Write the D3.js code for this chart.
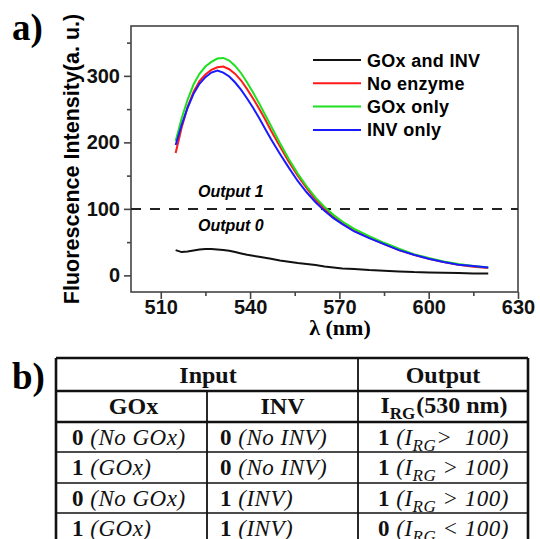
<!DOCTYPE html>
<html>
<head>
<meta charset="utf-8">
<script src="https://cdn.jsdelivr.net/npm/d3@7"></script>
<style>
  body { margin: 0; background: #fff; }
  svg { display: block; }
</style>
</head>
<body>
<svg id="chart" width="540" height="539"></svg>
<script>
// wavelength grid (nm) and spectra
const lambdas = [515, 517, 519, 521, 523, 525, 527, 529, 531, 533, 535, 537, 539, 541, 543, 545, 547,
                 550, 553, 556, 559, 562, 565, 568, 571, 575, 580, 585, 590, 595, 600, 605, 610, 615, 620];
const goxAndInv = [38, 35, 36, 37.5, 39, 39.5, 39.5, 39, 38, 37, 35, 33, 31, 29.5, 28, 26.5, 25,
                   22.5, 20.5, 18.5, 17, 15.5, 13.5, 12, 10.5, 9.5, 8, 7, 6, 5, 4.5, 4, 3.5, 3, 3];
const noEnzyme = [184, 222, 253, 276, 292, 302, 309, 313, 314, 310, 303, 293, 280, 266, 251, 235, 218,
                  194, 171, 150, 131, 114, 100, 88, 78, 67, 57, 47, 38, 31, 25, 20, 16, 13, 11];
const goxOnly = [202, 236, 264, 287, 303, 314, 321, 326, 327, 323, 315, 304, 290, 275, 259, 242, 225,
                 199, 175, 153, 134, 117, 103, 91, 81, 70, 59, 49, 40, 32, 26, 21, 17, 14, 12];
const invOnly = [196, 226, 252, 273, 288, 298, 305, 308, 305, 299, 290, 279, 266, 252, 237, 221, 205,
                 183, 162, 142, 125, 110, 97, 86, 77, 66, 56, 47, 38, 31, 25, 20, 16, 14, 12];

const seriesNames = ["GOx and INV", "No enzyme", "GOx only", "INV only"];
const seriesColors = ["#111111", "#ff1a1a", "#1fe01f", "#1a1aff"];
const seriesValues = [goxAndInv, noEnzyme, goxOnly, invOnly];

const xTicks = [510, 540, 570, 600, 630];
const xMinor = [525, 555, 585, 615];
const yTicks = [0, 100, 200, 300];
const yMinor = [50, 150, 250, 350];
const threshold = 100;

// truth table
const headTop = ["Input", "Output"];
const goxCells = [["0", "(No GOx)"], ["1", "(GOx)"], ["0", "(No GOx)"], ["1", "(GOx)"]];
const invCells = [["0", "(No INV)"], ["0", "(No INV)"], ["1", "(INV)"], ["1", "(INV)"]];
const outBits = ["1", "1", "1", "0"];
const outTail = ["> \u00a0100)", " > 100)", " > 100)", " < 100)"];

const svg = d3.select("#chart");
const sans = "'Liberation Sans', Arial, sans-serif";
const serif = "'Liberation Serif', 'Times New Roman', serif";

const x = d3.scaleLinear().domain([500, 630]).range([131, 518]);
const y = d3.scaleLinear().domain([-25, 375]).range([292, 26]);

// frame
svg.append("rect")
    .attr("x", 131).attr("y", 26)
    .attr("width", 518 - 131).attr("height", 292 - 26)
    .attr("fill", "none").attr("stroke", "#444").attr("stroke-width", 1.6);

// axes
const yAxis = svg.append("g").attr("transform", "translate(131,0)")
    .call(d3.axisLeft(y).tickValues(yTicks).tickSize(7).tickPadding(4));
const yAxisMinor = svg.append("g").attr("transform", "translate(131,0)")
    .call(d3.axisLeft(y).tickValues(yMinor).tickSize(4).tickFormat(""));
const xAxis = svg.append("g").attr("transform", "translate(0,292)")
    .call(d3.axisBottom(x).tickValues(xTicks).tickSize(7).tickPadding(1));
const xAxisMinor = svg.append("g").attr("transform", "translate(0,292)")
    .call(d3.axisBottom(x).tickValues(xMinor).tickSize(4).tickFormat(""));

[yAxis, yAxisMinor, xAxis, xAxisMinor].forEach(g => {
    g.select(".domain").remove();
    g.selectAll("line").attr("stroke", "#444").attr("stroke-width", 1.6);
    g.selectAll("text")
        .style("font-family", sans)
        .style("font-size", "20px")
        .style("font-weight", "bold")
        .attr("fill", "#111");
});

// threshold
svg.append("line")
    .attr("x1", x(500)).attr("x2", x(630))
    .attr("y1", y(threshold)).attr("y2", y(threshold))
    .attr("stroke", "#222").attr("stroke-width", 2)
    .attr("stroke-dasharray", "10,9");

svg.append("text").attr("x", 198).attr("y", 197)
    .style("font-family", sans).style("font-size", "16px")
    .style("font-weight", "bold").style("font-style", "italic")
    .text("Output 1");
svg.append("text").attr("x", 198).attr("y", 231)
    .style("font-family", sans).style("font-size", "16px")
    .style("font-weight", "bold").style("font-style", "italic")
    .text("Output 0");

// spectra
const line = d3.line().x((d, i) => x(lambdas[i])).y(d => y(d));
svg.selectAll(".spec")
    .data(seriesValues)
    .enter().append("path")
    .attr("class", "spec")
    .attr("d", line)
    .attr("fill", "none")
    .attr("stroke", (d, i) => seriesColors[i])
    .attr("stroke-width", 2);

// legend
const legend = svg.append("g");
seriesNames.forEach((name, i) => {
    const ly = 60 + i * 23.3;
    legend.append("line")
        .attr("x1", 313).attr("x2", 361).attr("y1", ly).attr("y2", ly)
        .attr("stroke", seriesColors[i]).attr("stroke-width", 2);
    legend.append("text")
        .attr("x", 367).attr("y", ly + 6.5)
        .style("font-family", sans).style("font-size", "18px")
        .style("font-weight", "bold").style("letter-spacing", "0.3px")
        .text(name);
});

// axis titles
svg.append("text")
    .attr("transform", "translate(79,159) rotate(-90)")
    .attr("text-anchor", "middle")
    .style("font-family", sans).style("font-size", "21.5px").style("font-weight", "bold")
    .text("Fluorescence Intensity(a. u.)");

svg.append("text")
    .attr("x", 340).attr("y", 335)
    .attr("text-anchor", "middle")
    .style("font-family", serif).style("font-size", "22px").style("font-weight", "bold")
    .text("\u03bb (nm)");

// panel labels
svg.append("text").attr("x", 12).attr("y", 40)
    .style("font-family", serif).style("font-size", "37px").style("font-weight", "bold")
    .text("a)");
svg.append("text").attr("x", 12).attr("y", 389)
    .style("font-family", serif).style("font-size", "37px").style("font-weight", "bold")
    .text("b)");

// table
const colX = [56, 207, 358, 528];
const rowY = [358, 391, 422, 452, 483, 513, 544];
const tbl = svg.append("g").attr("stroke", "#111");

rowY.forEach((ry, i) => {
    tbl.append("line").attr("x1", colX[0]).attr("x2", colX[3]).attr("y1", ry).attr("y2", ry)
        .attr("stroke-width", i < 3 ? 2.4 : 1.6);
});
tbl.append("line").attr("x1", colX[0]).attr("x2", colX[0]).attr("y1", rowY[0]).attr("y2", 539)
    .attr("stroke-width", 2.6);
tbl.append("line").attr("x1", colX[3]).attr("x2", colX[3]).attr("y1", rowY[0]).attr("y2", 539)
    .attr("stroke-width", 2.6);
tbl.append("line").attr("x1", colX[1]).attr("x2", colX[1]).attr("y1", rowY[1]).attr("y2", 539)
    .attr("stroke-width", 1.8);
tbl.append("line").attr("x1", colX[2]).attr("x2", colX[2]).attr("y1", rowY[0]).attr("y2", 539)
    .attr("stroke-width", 1.8);

const head = (tx, ty, s) => svg.append("text").attr("x", tx).attr("y", ty)
    .attr("text-anchor", "middle")
    .style("font-family", serif).style("font-size", "24px").style("font-weight", "bold")
    .attr("fill", "#111").text(s);

head((colX[0] + colX[2]) / 2 + 1, 383, headTop[0]);
head((colX[2] + colX[3]) / 2, 383, headTop[1]);
head((colX[0] + colX[1]) / 2 + 2, 414, "GOx");
head((colX[1] + colX[2]) / 2, 414, "INV");

const irg = svg.append("text").attr("x", (colX[2] + colX[3]) / 2 + 1).attr("y", 413)
    .attr("text-anchor", "middle")
    .style("font-family", serif).style("font-size", "24px").style("font-weight", "bold")
    .attr("fill", "#111");
irg.append("tspan").text("I");
irg.append("tspan").attr("dy", 6).style("font-size", "17px").text("RG");
irg.append("tspan").attr("dy", -6).attr("dx", 1).text("(530 nm)");

const cell = (tx, ty) => svg.append("text").attr("x", tx).attr("y", ty)
    .style("font-family", serif).style("font-size", "23px")
    .style("letter-spacing", "0.5px").attr("fill", "#111");

for (let r = 0; r < 4; r++) {
    const by = (rowY[r + 2] + rowY[r + 3]) / 2 + 7.5;
    let t = cell(72, by);
    t.append("tspan").style("font-weight", "bold").text(goxCells[r][0]);
    t.append("tspan").style("font-style", "italic").text(" " + goxCells[r][1]);

    t = cell(220, by);
    t.append("tspan").style("font-weight", "bold").text(invCells[r][0]);
    t.append("tspan").style("font-style", "italic").text(" " + invCells[r][1]);

    t = cell(378, by);
    t.append("tspan").style("font-weight", "bold").text(outBits[r]);
    t.append("tspan").style("font-style", "italic").text(" (I");
    t.append("tspan").attr("dy", 6).style("font-size", "17px").style("font-style", "italic").text("RG");
    t.append("tspan").attr("dy", -6).style("font-style", "italic").text(outTail[r]);
}
</script>
</body>
</html>
